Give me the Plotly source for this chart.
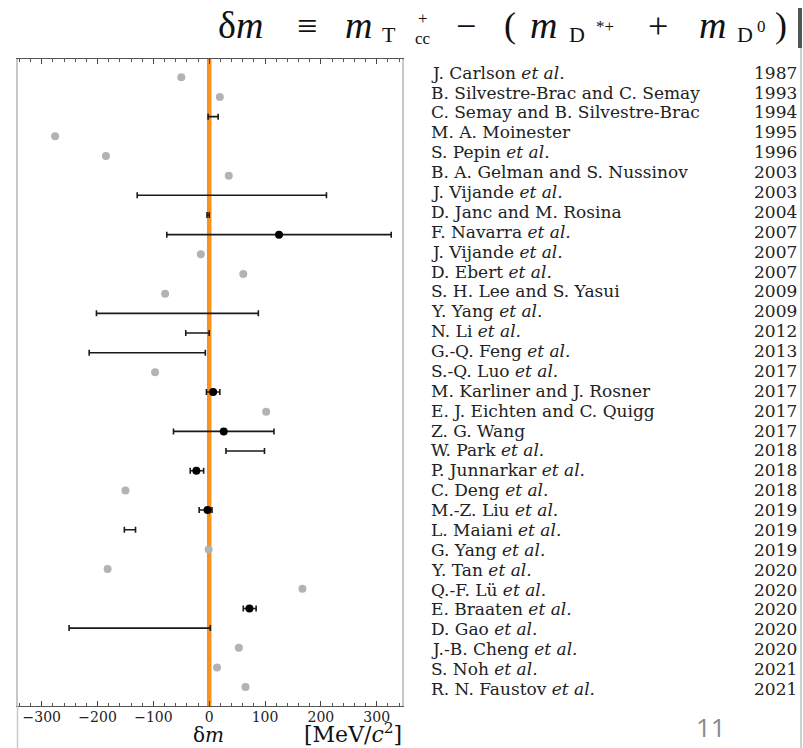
import plotly.graph_objects as go

# ---------------- data ----------------
names = [
    "J. Carlson <i>et al.</i>", "B. Silvestre-Brac and C. Semay", "C. Semay and B. Silvestre-Brac",
    "M. A. Moinester", "S. Pepin <i>et al.</i>", "B. A. Gelman and S. Nussinov",
    "J. Vijande <i>et al.</i>", "D. Janc and M. Rosina", "F. Navarra <i>et al.</i>",
    "J. Vijande <i>et al.</i>", "D. Ebert <i>et al.</i>", "S. H. Lee and S. Yasui",
    "Y. Yang <i>et al.</i>", "N. Li <i>et al.</i>", "G.-Q. Feng <i>et al.</i>",
    "S.-Q. Luo <i>et al.</i>", "M. Karliner and J. Rosner", "E. J. Eichten and C. Quigg",
    "Z. G. Wang", "W. Park <i>et al.</i>", "P. Junnarkar <i>et al.</i>",
    "C. Deng <i>et al.</i>", "M.-Z. Liu <i>et al.</i>", "L. Maiani <i>et al.</i>",
    "G. Yang <i>et al.</i>", "Y. Tan <i>et al.</i>", "Q.-F. Lü <i>et al.</i>",
    "E. Braaten <i>et al.</i>", "D. Gao <i>et al.</i>", "J.-B. Cheng <i>et al.</i>",
    "S. Noh <i>et al.</i>", "R. N. Faustov <i>et al.</i>",
]
years = [1987, 1993, 1994, 1995, 1996, 2003, 2003, 2004, 2007, 2007, 2007, 2009, 2009,
         2012, 2013, 2017, 2017, 2017, 2017, 2018, 2018, 2018, 2019, 2019, 2019, 2020,
         2020, 2020, 2020, 2020, 2021, 2021]
# kind: "gray" = estimate without uncertainty, "dot" = value with error bar, "range" = interval only
kind = ["gray", "gray", "range", "gray", "gray", "gray", "range", "range", "dot", "gray",
        "gray", "gray", "range", "range", "range", "gray", "dot", "gray", "dot", "range",
        "dot", "gray", "dot", "range", "gray", "gray", "gray", "dot", "range", "gray",
        "gray", "gray"]
central = [-50, 19, None, -276, -185, 35, None, None, 125, -15, 61, -79, None, None, None,
           -97, 7, 102, 26, None, -23, -150, -3, None, -1, -182, 167, 72, None, 53, 14, 65]
lower = [None, None, -2, None, None, None, -129, -4, -76, None, None, None, -202, -42, -215,
         None, -5, None, -64, 30, -34, None, -18, -152, None, None, None, 61, -251, None,
         None, None]
upper = [None, None, 16, None, None, None, 210, 0, 326, None, None, None, 88, 0, -7,
         None, 19, None, 116, 99, -10, None, 5, -132, None, None, None, 84, 2, None,
         None, None]

x_ticks = [-300, -200, -100, 0, 100, 200, 300]
x_range = [-342.5, 345.3]

# ---------------- figure ----------------
W, H = 803, 748
L, R, T, B = 18, 401, 59, 42
PW, PH = W - L - R, H - T - B


def px_x(px):
    return (px - L) / PW


def px_y(py):
    return 1 - (py - T) / PH


rows = list(range(len(names)))
fig = go.Figure()

# gray estimates
g = [i for i in rows if kind[i] == "gray"]
fig.add_trace(go.Scatter(
    x=[central[i] for i in g], y=g, mode="markers",
    marker=dict(color="#b3b3b3", size=8), hoverinfo="x", showlegend=False))

# intervals without central value
r = [i for i in rows if kind[i] == "range"]
mid = [(lower[i] + upper[i]) / 2 for i in r]
fig.add_trace(go.Scatter(
    x=mid, y=r, mode="markers",
    marker=dict(color="rgba(0,0,0,0)", size=1),
    error_x=dict(type="data", symmetric=True,
                 array=[upper[i] - m for i, m in zip(r, mid)],
                 color="#1a1a1a", thickness=1.6, width=3),
    hoverinfo="skip", showlegend=False))

# values with uncertainties
d = [i for i in rows if kind[i] == "dot"]
fig.add_trace(go.Scatter(
    x=[central[i] for i in d], y=d, mode="markers",
    marker=dict(color="#000000", size=8),
    error_x=dict(type="data", symmetric=False,
                 array=[upper[i] - central[i] for i in d],
                 arrayminus=[central[i] - lower[i] for i in d],
                 color="#1a1a1a", thickness=1.6, width=3),
    hoverinfo="x", showlegend=False))

# zero line
fig.add_shape(type="line", xref="x", yref="paper", x0=0, x1=0, y0=0, y1=1,
              line=dict(color="#F7931E", width=4.5), layer="below")

serif = "DejaVu Serif"
tserif = "Liberation Serif"
ann = []
# labels and years
for i in rows:
    py = 72.7 + 19.88 * i
    ann.append(dict(text=names[i], xref="paper", yref="paper", x=px_x(429), y=px_y(py),
                    xanchor="left", yanchor="middle", showarrow=False,
                    font=dict(family=serif, size=17, color="#222222")))
    ann.append(dict(text=str(years[i]), xref="paper", yref="paper", x=px_x(799), y=px_y(py),
                    xanchor="right", yanchor="middle", showarrow=False,
                    font=dict(family=serif, size=17, color="#222222")))

# title pieces: (center x px, center y px, text, size)
title_parts = [
    (240, 25, "δ<i>m</i>", 38), (307, 26, "≡", 36), (358, 25, "<i>m</i>", 38),
    (389, 34, "T", 22), (423, 19, "+", 17), (423, 39, "cc", 17),
    (466, 26, "−", 36), (510, 25, "(", 36), (543, 25, "<i>m</i>", 38),
    (577, 34, "D", 22), (605, 27, "*+", 17), (658, 26, "+", 36),
    (712, 25, "<i>m</i>", 38), (745, 34, "D", 22), (761, 26, "0", 17),
    (781, 25, ")", 36),
]
for x0, y0, t, s in title_parts:
    ann.append(dict(text=t, xref="paper", yref="paper", x=px_x(x0), y=px_y(y0),
                    xanchor="center", yanchor="middle", showarrow=False,
                    font=dict(family=tserif, size=s, color="#111111")))

# axis title
ann.append(dict(text="δ<i>m</i>", xref="paper", yref="paper", x=px_x(208), y=px_y(735),
                xanchor="center", yanchor="middle", showarrow=False,
                font=dict(family=serif, size=20, color="#111111")))
ann.append(dict(text="[MeV/<i>c</i><sup>2</sup>]", xref="paper", yref="paper",
                x=px_x(302), y=px_y(733), xanchor="left", yanchor="middle", showarrow=False,
                font=dict(family=serif, size=22, color="#111111")))
# slide number
ann.append(dict(text="11", xref="paper", yref="paper", x=px_x(711), y=px_y(727),
                xanchor="center", yanchor="middle", showarrow=False,
                font=dict(family="Open Sans", size=26, color="#8a8a8a")))

# frame extras
fig.add_shape(type="line", xref="paper", yref="paper", x0=px_x(17.5), x1=px_x(17.5),
              y0=px_y(706), y1=px_y(748), line=dict(color="#c8c8c8", width=1.5))
fig.add_shape(type="line", xref="paper", yref="paper", x0=px_x(801), x1=px_x(801),
              y0=px_y(45), y1=px_y(748), line=dict(color="#d0d0d0", width=2))
fig.add_shape(type="line", xref="paper", yref="paper", x0=px_x(800), x1=px_x(800),
              y0=px_y(8), y1=px_y(48), line=dict(color="#555555", width=4))

fig.update_layout(
    width=W, height=H, autosize=False,
    margin=dict(l=L, r=R, t=T, b=B, pad=0),
    paper_bgcolor="white", plot_bgcolor="white",
    annotations=ann,
    xaxis=dict(range=x_range, tickvals=x_ticks, ticks="inside", ticklen=5, tickwidth=1,
               tickcolor="#444444", showline=True, linecolor="#555555", linewidth=1.2,
               mirror="ticks", showgrid=False, zeroline=False, ticklabelstandoff=-2,
               minor=dict(dtick=20, tick0=0, ticks="inside", ticklen=2.5, tickcolor="#555555"),
               tickfont=dict(family=serif, size=14, color="#222222")),
    yaxis=dict(range=[31.96, -0.93], showticklabels=False, ticks="", showgrid=False,
               zeroline=False, showline=True, linecolor="#c8c8c8", linewidth=1.5,
               mirror=True),
)

fig.write_html("out.html", config={"displayModeBar": False},
               post_script="document.body.style.margin='0';")
